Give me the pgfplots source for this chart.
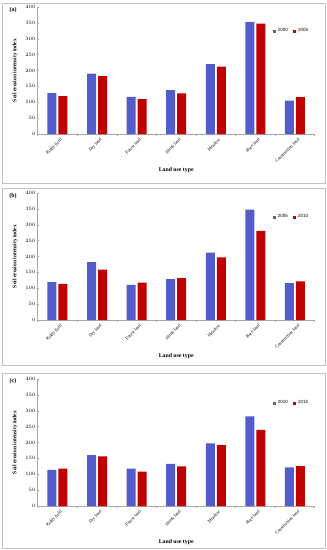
\documentclass[border=0pt]{standalone}
\usepackage{pgfplots}
\pgfplotsset{compat=1.18}
\usepackage{fontspec}
\setmainfont{Liberation Serif}
\setsansfont{Liberation Sans}
\definecolor{cblue}{RGB}{82,92,202}
\definecolor{cred}{RGB}{192,0,0}
\definecolor{frame}{RGB}{195,195,195}
\pgfplotsset{
  panel/.style={
    width=277pt, height=127pt, scale only axis,
    ymin=0, ymax=400, ytick={0,50,...,400},
    xmin=-0.5, xmax=6.5,
    xtick={0,...,6},
    xticklabels={Paddy field,Dry land,Forest land,Shrub land,Meadow,Bare land,Construction land},
    minor xtick={-0.5,0.5,...,6.5},
    major x tick style={draw=none},
    minor tick length=2pt, major tick length=2pt,
    tick align=outside,
    axis x line=bottom, axis y line=left,
    axis line style={-, draw=gray!70, line width=0.5pt},
    tick style={gray!70, line width=0.5pt},
    xticklabel style={rotate=45, anchor=north east, font=\fontsize{4.5}{5}\selectfont, inner sep=0.5pt, yshift=-2.5pt, xshift=1pt},
    yticklabel style={font=\sffamily\fontsize{4.5}{5}\selectfont, inner sep=1pt},
    ylabel={Soil erosion intensity index},
    ylabel style={font=\bfseries\fontsize{5.5}{6}\selectfont, at={(axis description cs:-0.082,0.5)}, anchor=center, rotate=0},
    xlabel={Land use type},
    xlabel style={font=\bfseries\fontsize{5.8}{6}\selectfont, at={(axis description cs:0.5,-0.285)}, anchor=center},
    ybar, bar width=9pt, bar shift auto,
    ybar=2pt,
    legend style={draw=none, fill=none, font=\sffamily\fontsize{4.5}{5}\selectfont, at={(0.995,0.81)}, anchor=east, legend columns=2, /tikz/every even column/.append style={column sep=3pt}},
    legend image code/.code={\fill[#1] (0pt,-1.6pt) rectangle (3.2pt,1.6pt);},
    clip=false,
  }
}
\begin{document}
\begin{tikzpicture}[x=1pt,y=1pt]
\path[use as bounding box] (0,0) rectangle (327,-550);
\draw[frame, line width=0.8pt] (2,-3) rectangle (325,-183);
\draw[frame, line width=0.8pt] (2,-188) rectangle (325,-365);
\draw[frame, line width=0.8pt] (2,-373) rectangle (325,-548);
\node[font=\bfseries\fontsize{6}{7}\selectfont] at (13,-10) {(a)};
\node[font=\bfseries\fontsize{6}{7}\selectfont] at (13,-196) {(b)};
\node[font=\bfseries\fontsize{6}{7}\selectfont] at (13,-381) {(c)};

\begin{axis}[panel, at={(37.7pt,-134pt)}, anchor=south west]
\addplot[fill=cblue, draw=none] coordinates {(0,129) (1,190) (2,117) (3,138) (4,220) (5,353) (6,105)};
\addplot[fill=cred, draw=none] coordinates {(0,119) (1,182) (2,110) (3,128) (4,212) (5,348) (6,116)};
\legend{2000,2005}
\end{axis}

\begin{axis}[panel, at={(37.7pt,-320pt)}, anchor=south west]
\addplot[fill=cblue, draw=none] coordinates {(0,119) (1,182) (2,111) (3,129) (4,212) (5,348) (6,116)};
\addplot[fill=cred, draw=none] coordinates {(0,114) (1,159) (2,118) (3,132) (4,197) (5,281) (6,122)};
\legend{2005,2010}
\end{axis}

\begin{axis}[panel, at={(37.7pt,-506pt)}, anchor=south west]
\addplot[fill=cblue, draw=none] coordinates {(0,114) (1,160) (2,118) (3,133) (4,197) (5,282) (6,122)};
\addplot[fill=cred, draw=none] coordinates {(0,118) (1,156) (2,108) (3,125) (4,192) (5,240) (6,126)};
\legend{2010,2015}
\end{axis}
\end{tikzpicture}
\end{document}
